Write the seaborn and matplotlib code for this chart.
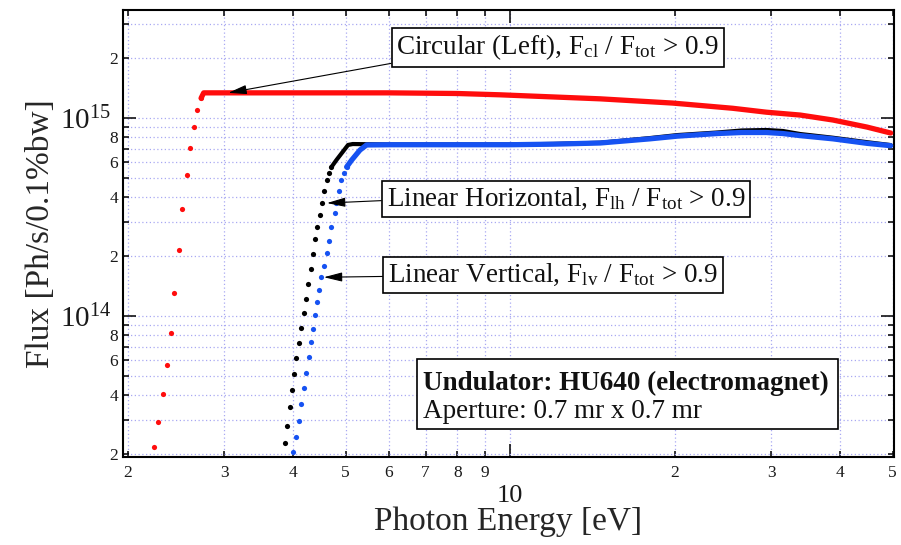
import matplotlib
matplotlib.use("Agg")
import matplotlib.pyplot as plt
import seaborn as sns
import pandas as pd
from matplotlib.ticker import FixedLocator, FixedFormatter
from matplotlib.patches import Rectangle

# ---------------- data ----------------
# Circular (Left)
e_cl_rise = [2.23, 2.27, 2.32, 2.36, 2.40, 2.43, 2.48, 2.51, 2.56, 2.60, 2.64, 2.67, 2.72]
f_cl_rise = [2.18e13, 2.92e13, 4.04e13, 5.66e13, 8.2e13, 1.31e14, 2.15e14, 3.47e14,
             5.15e14, 7.05e14, 9.0e14, 1.10e15, 1.26e15]
e_cl_line = [2.72, 2.75, 3.0, 4.0, 5.0, 6.0, 8.0, 9.57, 14.6, 19.8, 25.5, 29.4, 33.9, 38.9, 44.9, 49.6]
f_cl_line = [1.26e15, 1.34e15, 1.34e15, 1.34e15, 1.34e15, 1.34e15, 1.33e15, 1.31e15, 1.25e15,
             1.19e15, 1.12e15, 1.07e15, 1.035e15, 9.77e14, 9.0e14, 8.4e14]

# Linear Horizontal
e_lh_rise = [3.87, 3.91, 3.96, 3.99, 4.03, 4.06, 4.11, 4.14, 4.19, 4.23, 4.26, 4.32, 4.35,
             4.39, 4.44, 4.48, 4.52, 4.57, 4.62, 4.67, 4.71]
f_lh_rise = [2.28e13, 2.78e13, 3.47e13, 4.23e13, 5.09e13, 6.14e13, 7.31e13, 8.7e13, 1.04e14,
             1.22e14, 1.45e14, 1.73e14, 2.06e14, 2.45e14, 2.81e14, 3.24e14, 3.72e14, 4.28e14,
             4.86e14, 5.27e14, 5.66e14]
e_lh_line = [4.71, 4.81, 5.05, 5.15, 6.0, 8.0, 10.0, 12.0, 14.6, 18.0, 20.2, 23.9, 26.5,
             29.4, 31.5, 33.9, 38.9, 44.9, 49.6]
f_lh_line = [5.66e14, 6.14e14, 7.31e14, 7.39e14, 7.35e14, 7.35e14, 7.35e14, 7.4e14, 7.5e14,
             7.92e14, 8.2e14, 8.45e14, 8.65e14, 8.7e14, 8.6e14, 8.3e14, 7.95e14, 7.55e14, 7.3e14]

# Linear Vertical
e_lv_rise = [4.00, 4.06, 4.11, 4.14, 4.19, 4.23, 4.29, 4.32, 4.35, 4.39, 4.43, 4.47, 4.51,
             4.57, 4.62, 4.66, 4.70, 4.78, 4.81, 4.86, 4.91, 4.96, 5.02]
f_lv_rise = [2.06e13, 2.45e13, 2.95e13, 3.6e13, 4.33e13, 5.16e13, 6.21e13, 7.4e13, 8.6e13,
             1.01e14, 1.18e14, 1.35e14, 1.57e14, 1.79e14, 2.08e14, 2.39e14, 2.81e14, 3.31e14,
             3.72e14, 4.28e14, 4.86e14, 5.27e14, 5.66e14]
e_lv_line = [5.02, 5.13, 5.31, 5.46, 6.0, 8.0, 10.0, 12.0, 14.6, 18.0, 20.2, 23.9, 26.5,
             29.4, 31.5, 33.9, 38.9, 44.9, 49.6]
f_lv_line = [5.66e14, 6.14e14, 6.89e14, 7.31e14, 7.33e14, 7.33e14, 7.33e14, 7.38e14, 7.48e14,
             7.85e14, 8.1e14, 8.35e14, 8.45e14, 8.45e14, 8.35e14, 8.15e14, 7.85e14, 7.45e14, 7.25e14]

# ticks
x_major = [10]
x_major_labels = ["10"]
x_minor = [2, 3, 4, 5, 6, 7, 8, 9, 20, 30, 40, 50]
x_minor_labels = ["2", "3", "4", "5", "6", "7", "8", "9", "2", "3", "4", "5"]
y_major = [1e14, 1e15]
y_major_labels = [r"$\mathregular{10^{14}}$", r"$\mathregular{10^{15}}$"]
y_minor = [2e13, 3e13, 4e13, 5e13, 6e13, 7e13, 8e13, 9e13,
           2e14, 3e14, 4e14, 5e14, 6e14, 7e14, 8e14, 9e14, 2e15, 3e15]
y_minor_labels = ["2", "", "4", "", "6", "", "8", "",
                  "2", "", "4", "", "6", "", "8", "", "2", ""]

label_cl = r"Circular (Left), F$_{\mathrm{cl}}$ / F$_{\mathrm{tot}}$ > 0.9"
label_lh = r"Linear Horizontal, F$_{\mathrm{lh}}$ / F$_{\mathrm{tot}}$ > 0.9"
label_lv = r"Linear Vertical, F$_{\mathrm{lv}}$ / F$_{\mathrm{tot}}$ > 0.9"
info_title = "Undulator: HU640 (electromagnet)"
info_line = "Aperture: 0.7 mr x 0.7 mr"

# ---------------- style ----------------
sns.set_style("white")
plt.rcParams["font.family"] = ["Liberation Serif", "DejaVu Serif"]
plt.rcParams["mathtext.fontset"] = "custom"
plt.rcParams["mathtext.rm"] = "Liberation Serif"
plt.rcParams["mathtext.it"] = "Liberation Serif:italic"
plt.rcParams["mathtext.bf"] = "Liberation Serif:bold"
plt.rcParams["text.color"] = "#111111"

RED = "#ff0d0d"
BLACK = "#000000"
BLUE = "#1652f2"

fig = plt.figure(figsize=(9.01, 5.45), dpi=100)
ax = fig.add_axes([123 / 901, 1 - 457 / 545, 771 / 901, 447 / 545])
ax.set_xscale("log")
ax.set_yscale("log")

# curves
sns.lineplot(x=e_cl_line, y=f_cl_line, ax=ax, color=RED, lw=3.8, sort=False, estimator=None, zorder=3)
sns.scatterplot(x=e_cl_rise, y=f_cl_rise, ax=ax, color=RED, s=14, linewidth=0, zorder=3)

sns.lineplot(x=e_lh_line, y=f_lh_line, ax=ax, color=BLACK, lw=3.0, sort=False, estimator=None, zorder=4)
sns.scatterplot(x=e_lh_rise, y=f_lh_rise, ax=ax, color=BLACK, s=14, linewidth=0, zorder=4)

sns.lineplot(x=e_lv_line, y=f_lv_line, ax=ax, color=BLUE, lw=3.8, sort=False, estimator=None, zorder=5)
sns.scatterplot(x=e_lv_rise, y=f_lv_rise, ax=ax, color=BLUE, s=14, linewidth=0, zorder=5)

ax.set_xlim(1.958, 50.3)
ax.set_ylim(1.941e13, 3.512e15)

# ticks
ax.xaxis.set_major_locator(FixedLocator(x_major))
ax.xaxis.set_major_formatter(FixedFormatter(x_major_labels))
ax.xaxis.set_minor_locator(FixedLocator(x_minor))
ax.xaxis.set_minor_formatter(FixedFormatter(x_minor_labels))
ax.yaxis.set_major_locator(FixedLocator(y_major))
ax.yaxis.set_major_formatter(FixedFormatter(y_major_labels))
ax.yaxis.set_minor_locator(FixedLocator(y_minor))
ax.yaxis.set_minor_formatter(FixedFormatter(y_minor_labels))

ax.tick_params(which="both", direction="in", top=True, right=True, bottom=True, left=True,
               width=1.1, color="black", labelcolor="#1a1a1a")
ax.tick_params(which="major", length=9.5)
ax.tick_params(which="minor", length=4)
ax.tick_params(axis="x", which="minor", labelsize=12.5, pad=6)
ax.tick_params(axis="x", which="major", labelsize=19, pad=20)
ax.tick_params(axis="y", which="minor", labelsize=12.5, pad=3.6)
ax.tick_params(axis="y", which="major", labelsize=21, pad=8.5)

ax.grid(True, which="both", color="#a9a9f2", linestyle=(0, (1, 2)), lw=0.9)
ax.set_axisbelow(True)
for sp in ax.spines.values():
    sp.set_color("black")
    sp.set_linewidth(1.5)

ax.set_xlabel("Photon Energy [eV]", fontsize=24)
ax.xaxis.label.set_va("center")
ax.xaxis.set_label_coords(0.5, -0.1454)
ax.set_ylabel("Flux [Ph/s/0.1%bw]", fontsize=24)
ax.yaxis.label.set_va("center")
ax.yaxis.set_label_coords(-0.107, 0.5)

# annotations
box = dict(boxstyle="square,pad=0.18", fc="white", ec="black", lw=1.2)


def arrow(relpos):
    return dict(arrowstyle="-|>,head_length=0.8,head_width=0.2", color="black", lw=0.8,
                mutation_scale=14, shrinkA=0, shrinkB=0, relpos=relpos)


ax.annotate(label_cl, xy=(3.05, 1.34e15), xycoords="data", xytext=(0.564, 0.916),
            textcoords="axes fraction", ha="center", va="center", fontsize=19.5,
            bbox=box, arrowprops=arrow((0.0, 0.0)), zorder=10)
ax.annotate(label_lh, xy=(4.62, 3.72e14), xycoords="data", xytext=(0.5746, 0.577),
            textcoords="axes fraction", ha="center", va="center", fontsize=19.5,
            bbox=box, arrowprops=arrow((0.0, 0.45)), zorder=10)
ax.annotate(label_lv, xy=(4.56, 1.57e14), xycoords="data", xytext=(0.5577, 0.407),
            textcoords="axes fraction", ha="center", va="center", fontsize=19.5,
            bbox=box, arrowprops=arrow((0.0, 0.45)), zorder=10)

ax.add_patch(Rectangle((0.3813, 0.0626), 0.5461, 0.1566, transform=ax.transAxes,
                       fc="white", ec="black", lw=1.2, zorder=10))
ax.text(0.389, 0.1499, info_title, transform=ax.transAxes, ha="left", va="baseline",
        fontsize=19.5, fontweight="bold", zorder=11)
ax.text(0.389, 0.0872, info_line, transform=ax.transAxes, ha="left", va="baseline",
        fontsize=19.5, zorder=11)

fig.savefig("out.png", dpi=100)
